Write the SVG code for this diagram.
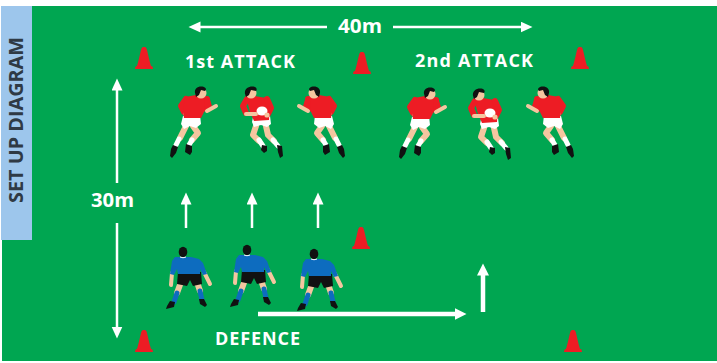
<svg xmlns="http://www.w3.org/2000/svg" xmlns:xlink="http://www.w3.org/1999/xlink" width="717" height="363" viewBox="0 0 717 363">
<style>
.lbl{font-family:"Open Sans","Liberation Sans",sans-serif;font-weight:bold;fill:#ffffff}
.side{font-family:"Open Sans","Liberation Sans",sans-serif;font-weight:bold;fill:#2f3a45}
.thin{stroke:#ffffff;stroke-width:2.5;fill:none}
.thick{stroke:#ffffff;stroke-width:4.5;fill:none}
.cone{fill:#ed1c24}
.skin{stroke:#f5c6a0;fill:none;stroke-linecap:round;stroke-linejoin:round}
.red{stroke:#ed1c24;fill:none;stroke-linecap:round;stroke-linejoin:round}
.wht{stroke:#ffffff;fill:none;stroke-linecap:round}
.blu{stroke:#0d6cbf;fill:none;stroke-linecap:round}
</style>
<defs>
<marker id="ah" markerUnits="userSpaceOnUse" markerWidth="13" markerHeight="12" refX="0.5" refY="5.5" orient="auto">
<path d="M0,0 L12,5.5 L0,11 Z" fill="#ffffff"/>
</marker>
<marker id="ahk" markerUnits="userSpaceOnUse" markerWidth="13" markerHeight="13" refX="0.5" refY="6" orient="auto">
<path d="M0,0 L12,6 L0,12 Z" fill="#ffffff"/>
</marker>
<path id="cone" d="M-9,0 L9,0 L8.5,-2.5 L7,-3 C5.5,-8 4,-15 3,-19 C2.5,-21.5 1.5,-22 0,-22 C-1.5,-22 -2.5,-21.5 -3,-19 C-4,-15 -5.5,-8 -7,-3 L-8.5,-2.5 Z"/>
<g id="runR">
<path class="skin" stroke-width="6" d="M17,40 L11,52"/>
<path class="wht" stroke-width="5" d="M10,53 L7,59"/>
<path fill="#111" d="M4,59 L9,61 L7,67 L3,72 L1,70 L2,63 Z"/>
<path class="skin" stroke-width="6" d="M24,40 L29,47 L23,54"/>
<path class="wht" stroke-width="5" d="M23,54 L20,59"/>
<path fill="#111" d="M17,58 L23,60 L23,66 L21,69 L16,66 Z"/>
<path fill="#ffffff" d="M14,30 L31,29 L32,38 L27,42 L21,40 L15,43 L12,38 Z"/>
<path class="red" stroke-width="6" d="M17,13 L12,20 L15,26"/>
<circle cx="17" cy="28" r="2.6" fill="#f5c6a0"/>
<path fill="#ed1c24" d="M16,11 L27,9 L31,12 L36,10 L41,14 L43,20 L38,23 L35,26 L32,32 L15,32 L14,25 Z"/>
<path class="red" stroke-width="6" d="M38,13 L39,23"/>
<path class="skin" stroke-width="4" d="M38,25 L47,20"/>
<circle cx="32" cy="7" r="5.5" fill="#f5c6a0"/>
<path fill="#111" d="M26,7 C25,2 30,-0.5 35,1 C37.5,2 37.5,4 36,5 L32,4 L30,9 L27,11 Z"/>
</g>
<g id="ball">
<path class="skin" stroke-width="6" d="M14,40 L11,49 L17,55"/>
<path class="wht" stroke-width="5" d="M17,54 L21,60"/>
<path fill="#111" d="M20,59 L25,60 L25,65 L22,67 L19,64 Z"/>
<path class="skin" stroke-width="6" d="M24,40 L26,49 L32,55"/>
<path class="wht" stroke-width="5" d="M31,54 L36,60"/>
<path fill="#111" d="M35,59 L40,60 L41,70 L38,72 L36,66 Z"/>
<path fill="#ffffff" d="M11,31 L28,30 L29,38 L25,41 L19,39 L12,41 L10,36 Z"/>
<path fill="#ed1c24" d="M4,11 L13,10 L24,12 L28,17 L27,34 L12,35 L8,26 Z"/>
<path class="red" stroke-width="6" d="M5,13 L1,20 L4,27"/>
<path class="red" stroke-width="6" d="M25,13 L29,22 L26,28"/>
<ellipse cx="20" cy="25" rx="5.5" ry="4.5" fill="#ffffff"/>
<path class="skin" stroke-width="4" d="M4,28 L14,28"/>
<circle cx="25" cy="29" r="2.6" fill="#f5c6a0"/>
<circle cx="9" cy="7" r="5.5" fill="#f5c6a0"/>
<path fill="#111" d="M3,8 C2,2 8,-0.5 13,1 C15,2 15,4 14,5 L9,4 L7,9 L4,11 Z"/>
</g>
<g id="def">
<path class="skin" stroke-width="4" d="M7,26 L6,38"/>
<path class="skin" stroke-width="4" d="M39,25 L45,37"/>
<path class="skin" stroke-width="6" d="M16,35 L12,46"/>
<path class="blu" stroke-width="5" d="M12,46 L9,55"/>
<path fill="#111" d="M5,54 L10,55 L9,60 L1,62 L2,59 Z"/>
<path class="skin" stroke-width="6" d="M32,35 L35,44"/>
<path class="blu" stroke-width="5" d="M35,44 L37,53"/>
<path fill="#111" d="M34,52 L39,52 L42,58 L40,60 L35,57 Z"/>
<path fill="#111" d="M13,25 L36,25 L37,37 L28,39 L25,33 L22,39 L12,37 Z"/>
<path fill="#0d6cbf" d="M10,10 L26,10 L34,12 L38,16 L42,27 L38,28 L35,22 L35,27 L13,27 L12,22 L9,28 L5,27 L7,14 Z"/>
<ellipse cx="18" cy="5" rx="4.3" ry="5.2" fill="#111"/>
<path d="M15,10 Q18,11.5 21,10" stroke="#ffffff" stroke-width="1" fill="none"/>
</g>
</defs>
<rect x="0" y="0" width="717" height="363" fill="#ffffff"/>
<rect id="field" x="2" y="6" width="715" height="355" fill="#00a651"/>
<g id="side-label">
<rect x="1" y="6" width="31" height="234" fill="#9dc6ec"/>
<text class="side" font-size="20" transform="translate(23,203) rotate(-90)" textLength="166" lengthAdjust="spacingAndGlyphs">SET UP DIAGRAM</text>
</g>
<g id="cones">
<use href="#cone" class="cone" transform="translate(144,69)"/>
<use href="#cone" class="cone" transform="translate(362,74)"/>
<use href="#cone" class="cone" transform="translate(580,69)"/>
<use href="#cone" class="cone" transform="translate(361,249)"/>
<use href="#cone" class="cone" transform="translate(144,352)"/>
<use href="#cone" class="cone" transform="translate(573,352)"/>
</g>
<g id="connectors">
<line class="thin" x1="327" y1="27" x2="200" y2="27" marker-end="url(#ah)"/>
<line class="thin" x1="393" y1="27" x2="521" y2="27" marker-end="url(#ah)"/>
<line class="thin" x1="117" y1="183" x2="117" y2="90" marker-end="url(#ah)"/>
<line class="thin" x1="117" y1="223" x2="117" y2="327" marker-end="url(#ah)"/>
<line class="thin" x1="186" y1="228" x2="186" y2="204" marker-end="url(#ah)"/>
<line class="thin" x1="252" y1="228" x2="252" y2="204" marker-end="url(#ah)"/>
<line class="thin" x1="318" y1="228" x2="318" y2="204" marker-end="url(#ah)"/>
<line class="thick" x1="258" y1="314" x2="455" y2="314" marker-end="url(#ahk)"/>
<line class="thick" x1="483" y1="312" x2="483" y2="275" marker-end="url(#ahk)"/>
</g>
<g id="labels">
<text class="lbl" font-size="20" x="338" y="33" textLength="44" lengthAdjust="spacingAndGlyphs">40m</text>
<text class="lbl" font-size="18" x="185" y="68" textLength="110" lengthAdjust="spacing">1st ATTACK</text>
<text class="lbl" font-size="18" x="415" y="67" textLength="118" lengthAdjust="spacing">2nd ATTACK</text>
<text class="lbl" font-size="20" x="91" y="207" textLength="43" lengthAdjust="spacingAndGlyphs">30m</text>
<text class="lbl" font-size="18" x="215" y="345" textLength="85" lengthAdjust="spacing">DEFENCE</text>
</g>
<g id="attack1">
<g id="attacker-1"><use href="#runR" transform="translate(169,86)"/></g>
<g id="attacker-2"><use href="#ball" transform="translate(242,86)"/></g>
<g id="attacker-3"><use href="#runR" transform="translate(346,86) scale(-1,1)"/></g>
</g>
<g id="attack2">
<g id="attacker-4"><use href="#runR" transform="translate(398,87)"/></g>
<g id="attacker-5"><use href="#ball" transform="translate(470,88)"/></g>
<g id="attacker-6"><use href="#runR" transform="translate(575,86) scale(-1,1)"/></g>
</g>
<g id="defence">
<g id="defender-1"><use href="#def" transform="translate(165,247)"/></g>
<g id="defender-2"><use href="#def" transform="translate(229,245)"/></g>
<g id="defender-3"><use href="#def" transform="translate(296,249)"/></g>
</g>
</svg>
